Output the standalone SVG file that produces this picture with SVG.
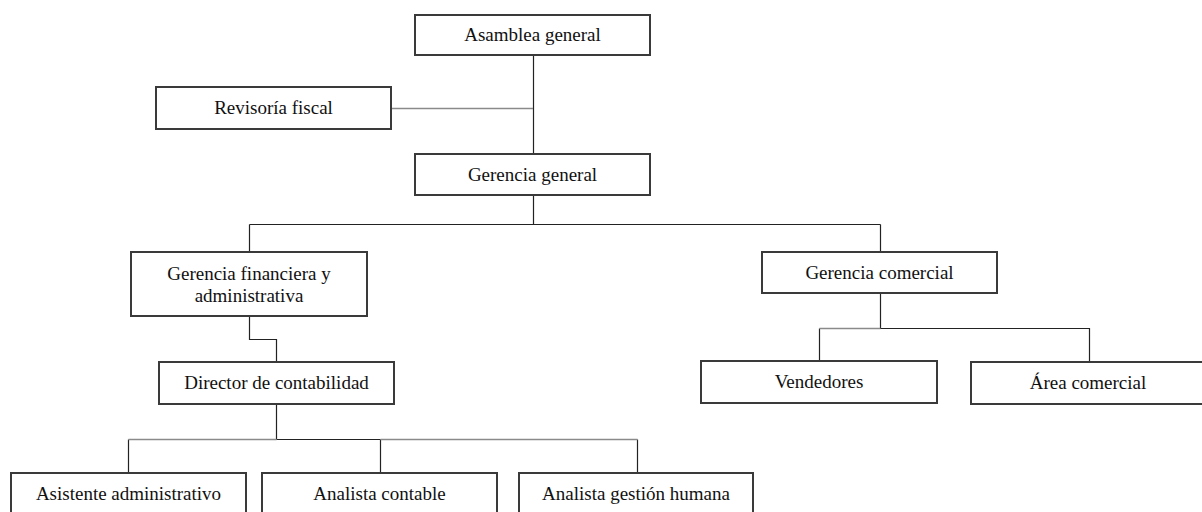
<svg xmlns="http://www.w3.org/2000/svg" width="1202" height="512" viewBox="0 0 1202 512">
<style>
.box{fill:#ffffff;stroke:#3a3a3a;stroke-width:2}
.lbl{font-family:'Liberation Serif','DejaVu Serif',serif;font-size:19px;fill:#111;text-anchor:middle}
.ln{fill:none;stroke:#222;stroke-width:1.2}
.lg{fill:none;stroke:#8a8a8a;stroke-width:1.6}
</style>
<rect width="1202" height="512" fill="#ffffff"/>
<g id="connectors">
<path class="ln" d="M533.5,55 V154"/>
<path class="lg" d="M391,108.5 H533"/>
<path class="ln" d="M533.5,195 V224.5 M249.5,224.5 H880.5 M249.5,224.5 V252 M880.5,224.5 V252"/>
<path class="ln" d="M249.5,316 V339.5 H276.5 V362"/>
<path class="ln" d="M276.5,404 V439.5 M276.5,439.5 H380.5 M380.5,439.5 V473 M128.5,439.5 V473 M637.5,439.5 V473"/>
<path class="lg" d="M128.5,439.5 H276.5 M380.5,439.5 H637.5"/>
<path class="ln" d="M880.5,293 V328.5 H1089.5 V362 M819.5,328.5 V361"/>
<path class="lg" d="M819.5,328.5 H880.5"/>
</g>
<g id="asamblea"><rect class="box" x="415" y="15" width="235" height="40"/><text class="lbl" x="532.5" y="41">Asamblea general</text></g>
<g id="revisoria"><rect class="box" x="156" y="87" width="235" height="42"/><text class="lbl" x="273.5" y="114">Revisoría fiscal</text></g>
<g id="gerencia-general"><rect class="box" x="415" y="154" width="235" height="41"/><text class="lbl" x="532.5" y="180.5">Gerencia general</text></g>
<g id="gerencia-financiera"><rect class="box" x="131" y="252" width="236" height="64"/><text class="lbl" x="249" y="279.5">Gerencia financiera y</text><text class="lbl" x="249" y="301.5">administrativa</text></g>
<g id="gerencia-comercial"><rect class="box" x="762" y="252" width="235" height="41"/><text class="lbl" x="879.5" y="278.5">Gerencia comercial</text></g>
<g id="director"><rect class="box" x="159" y="362" width="235" height="42"/><text class="lbl" x="276.5" y="389">Director de contabilidad</text></g>
<g id="vendedores"><rect class="box" x="701" y="361" width="236" height="42"/><text class="lbl" x="819" y="388">Vendedores</text></g>
<g id="area-comercial"><rect class="box" x="971" y="362" width="234" height="42"/><text class="lbl" x="1088" y="389">Área comercial</text></g>
<g id="asistente"><rect class="box" x="11" y="473" width="235" height="45"/><text class="lbl" x="128.5" y="499.5">Asistente administrativo</text></g>
<g id="analista-contable"><rect class="box" x="262" y="473" width="235" height="45"/><text class="lbl" x="379.5" y="499.5">Analista contable</text></g>
<g id="analista-gestion"><rect class="box" x="519" y="473" width="234" height="45"/><text class="lbl" x="636" y="499.5">Analista gestión humana</text></g>
</svg>
